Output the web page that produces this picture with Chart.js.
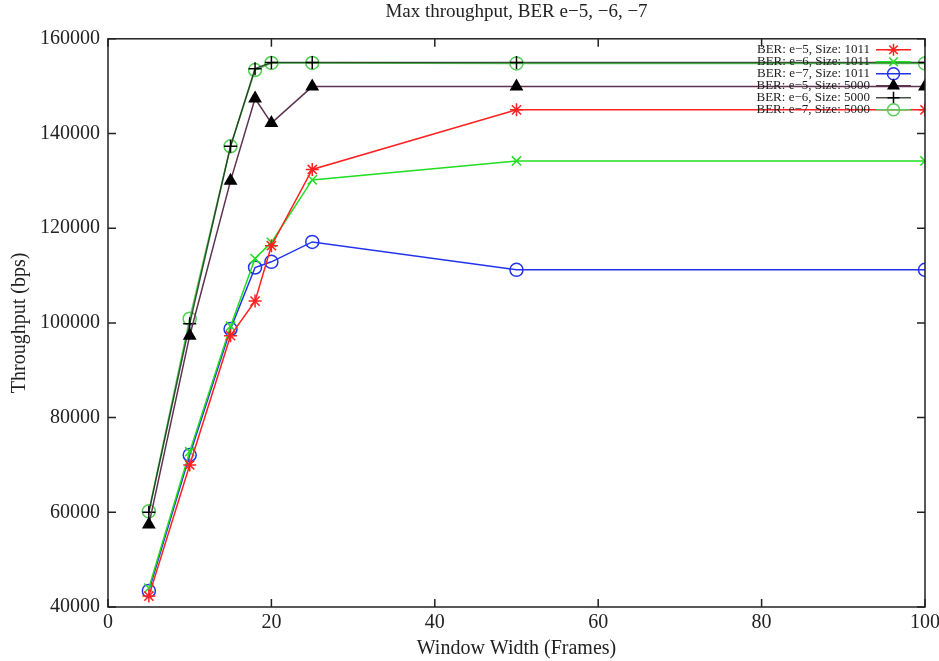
<!DOCTYPE html>
<html>
<head>
<meta charset="utf-8">
<script src="https://cdn.jsdelivr.net/npm/chart.js@4/dist/chart.umd.min.js"></script>
<style>
  body { margin: 0; background: #fff; }
</style>
</head>
<body>
<canvas id="chart" width="939" height="661"></canvas>
<script>
const windowSizes = [5, 10, 15, 18, 20, 25, 50, 100];

const ber5Size1011 = [42300, 70000, 97300, 104600, 116300, 132400, 145000, 145000];
const ber6Size1011 = [44000, 72800, 99300, 113600, 117000, 130200, 134200, 134200];
const ber7Size1011 = [43400, 72100, 98700, 111700, 112900, 117100, 111200, 111200];
const ber5Size5000 = [57400, 97300, 130000, 147400, 142200, 149900, 149900, 149900];
const ber6Size5000 = [60000, 99800, 137300, 153700, 155000, 155000, 155000, 155000];
const ber7Size5000 = [60200, 100900, 137300, 153400, 154900, 154900, 154800, 154800];

const xTicks = [0, 20, 40, 60, 80, 100];
const yTicks = [40000, 60000, 80000, 100000, 120000, 140000, 160000];

const serif = "'Liberation Serif', 'DejaVu Serif', serif";

function points(values) {
  return windowSizes.map((x, i) => ({ x: x, y: values[i] }));
}

function series(label, values, line, marker, style, fill) {
  return {
    label: label,
    data: points(values),
    borderColor: line,
    borderWidth: 1.5,
    pointStyle: style,
    pointRadius: 6.5,
    pointBorderColor: marker,
    pointBackgroundColor: fill || "rgba(0,0,0,0)",
    pointBorderWidth: 1.5,
    tension: 0
  };
}

// frame with inward ticks on all four sides, like gnuplot
const framePlugin = {
  id: "frame",
  afterDatasetsDraw(chart) {
    const { ctx, chartArea: a, scales } = chart;
    ctx.save();
    ctx.strokeStyle = "#222";
    ctx.lineWidth = 1.5;
    ctx.strokeRect(a.left, a.top, a.right - a.left, a.bottom - a.top);
    const len = 8;
    ctx.beginPath();
    xTicks.forEach(v => {
      const px = scales.x.getPixelForValue(v);
      ctx.moveTo(px, a.bottom); ctx.lineTo(px, a.bottom - len);
      ctx.moveTo(px, a.top); ctx.lineTo(px, a.top + len);
    });
    yTicks.forEach(v => {
      const py = scales.y.getPixelForValue(v);
      ctx.moveTo(a.left, py); ctx.lineTo(a.left + len, py);
      ctx.moveTo(a.right, py); ctx.lineTo(a.right - len, py);
    });
    ctx.stroke();
    ctx.restore();
  }
};

// key in the top right corner: text right-aligned, then line sample with marker
const keyPlugin = {
  id: "key",
  afterDatasetsDraw(chart) {
    const ctx = chart.ctx;
    const a = chart.chartArea;
    const textRight = a.right - 55;
    const sampleL = a.right - 49;
    const sampleR = a.right - 14;
    ctx.save();
    ctx.font = "13px " + serif;
    ctx.textAlign = "right";
    ctx.textBaseline = "middle";
    chart.data.datasets.forEach((ds, i) => {
      const y = a.top + 11 + i * 12;
      ctx.fillStyle = "#222";
      ctx.fillText(ds.label, textRight, y);
      ctx.strokeStyle = ds.borderColor;
      ctx.lineWidth = ds.borderWidth;
      ctx.beginPath();
      ctx.moveTo(sampleL, y);
      ctx.lineTo(sampleR, y);
      ctx.stroke();
      ctx.strokeStyle = ds.pointBorderColor;
      ctx.fillStyle = ds.pointBackgroundColor;
      ctx.lineWidth = ds.pointBorderWidth;
      Chart.helpers.drawPoint(ctx, {
        pointStyle: ds.pointStyle,
        radius: 6,
        rotation: 0,
        borderWidth: ds.pointBorderWidth
      }, (sampleL + sampleR) / 2, y);
    });
    ctx.restore();
  }
};

new Chart(document.getElementById("chart"), {
  type: "line",
  data: {
    datasets: [
      series("BER: e\u22125, Size: 1011", ber5Size1011, "#ff2020", "#ff2020", "star"),
      series("BER: e\u22126, Size: 1011", ber6Size1011, "#22dd22", "#22dd22", "crossRot"),
      series("BER: e\u22127, Size: 1011", ber7Size1011, "#2233ee", "#2233ee", "circle"),
      series("BER: e\u22125, Size: 5000", ber5Size5000, "#5e3350", "#000000", "triangle", "#000000"),
      series("BER: e\u22126, Size: 5000", ber6Size5000, "rgba(20,40,20,0.8)", "#000000", "cross"),
      series("BER: e\u22127, Size: 5000", ber7Size5000, "#55cc55", "#55cc55", "circle")
    ]
  },
  options: {
    responsive: false,
    devicePixelRatio: 1,
    animation: false,
    layout: { padding: { left: 0, right: 14, top: 0, bottom: 0 } },
    plugins: {
      legend: { display: false },
      tooltip: { enabled: false },
      title: {
        display: true,
        fullSize: false,
        text: "Max throughput, BER e\u22125, \u22126, \u22127",
        color: "#222",
        font: { family: serif, size: 19, weight: "normal", lineHeight: 1.2 },
        padding: { top: 1, bottom: 15 }
      }
    },
    scales: {
      x: {
        type: "linear",
        min: 0,
        max: 100,
        afterFit: s => { s.height = 54; s.paddingLeft = 0; s.paddingRight = 0; },
        afterBuildTicks: s => { s.ticks = xTicks.map(v => ({ value: v })); },
        grid: { display: false, drawTicks: false },
        border: { display: false },
        ticks: { padding: 4, color: "#222", font: { family: serif, size: 20 }, callback: v => String(v) },
        title: {
          display: true,
          text: "Window Width (Frames)",
          color: "#222",
          font: { family: serif, size: 20 },
          padding: { top: 0, bottom: 0 }
        }
      },
      y: {
        min: 40000,
        max: 160000,
        afterFit: s => { s.width = 108; s.paddingTop = 0; s.paddingBottom = 0; },
        afterBuildTicks: s => { s.ticks = yTicks.map(v => ({ value: v })); },
        grid: { display: false, drawTicks: false },
        border: { display: false },
        ticks: { padding: 8, color: "#222", font: { family: serif, size: 20 }, callback: v => String(v) },
        title: {
          display: true,
          text: "Throughput (bps)",
          color: "#222",
          font: { family: serif, size: 20 },
          padding: { top: 8, bottom: 0 }
        }
      }
    }
  },
  plugins: [framePlugin, keyPlugin]
});
</script>
</body>
</html>
